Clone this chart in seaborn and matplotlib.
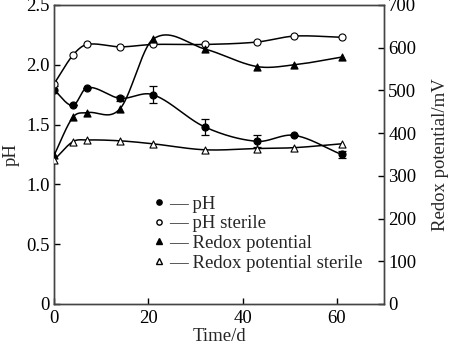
import numpy as np
import pandas as pd
import matplotlib
matplotlib.use("Agg")
import matplotlib.pyplot as plt
import seaborn as sns
from matplotlib.lines import Line2D

# ---- data ----
time_d = [0, 4, 7, 14, 21, 32, 43, 51, 61]
ph = [1.79, 1.66, 1.81, 1.72, 1.75, 1.48, 1.36, 1.41, 1.25]
ph_err = [0.03, 0.0, 0.0, 0.02, 0.07, 0.065, 0.05, 0.0, 0.03]
ph_sterile = [1.84, 2.08, 2.17, 2.15, 2.17, 2.17, 2.19, 2.24, 2.23]
redox = [348, 437, 448, 457, 620, 597, 556, 560, 578]
redox_sterile = [337, 380, 384, 382, 375, 361, 364, 366, 375]

labels = ["pH", "pH sterile", "Redox potential", "Redox potential sterile"]


def smooth_curve(x, y, n=40):
    """Cubic Hermite (Catmull-Rom style) curve through the data points."""
    x = np.asarray(x, float)
    y = np.asarray(y, float)
    k = len(x)
    m = np.zeros(k)
    m[0] = (y[1] - y[0]) / (x[1] - x[0])
    m[-1] = (y[-1] - y[-2]) / (x[-1] - x[-2])
    for i in range(1, k - 1):
        m[i] = (y[i + 1] - y[i - 1]) / (x[i + 1] - x[i - 1])
    xs_all, ys_all = [], []
    for i in range(k - 1):
        h = x[i + 1] - x[i]
        t = np.linspace(0, 1, n, endpoint=(i == k - 2))
        h00 = 2 * t ** 3 - 3 * t ** 2 + 1
        h10 = t ** 3 - 2 * t ** 2 + t
        h01 = -2 * t ** 3 + 3 * t ** 2
        h11 = t ** 3 - t ** 2
        xs_all.append(x[i] + t * h)
        ys_all.append(h00 * y[i] + h10 * h * m[i] + h01 * y[i + 1] + h11 * h * m[i + 1])
    return np.concatenate(xs_all), np.concatenate(ys_all)


sns.set_style("ticks")
plt.rcParams["font.family"] = ["Liberation Serif", "DejaVu Serif"]
plt.rcParams["axes.edgecolor"] = "#444444"
plt.rcParams["axes.linewidth"] = 1.0

fig = plt.figure(figsize=(4.5, 3.52), dpi=100)
ax = fig.add_axes([0.12, 0.1364, 0.7333, 0.8494])
ax2 = ax.twinx()

lw = 1.1
ms = 26

# left axis: pH
for yv in (ph, ph_sterile):
    xs, ys = smooth_curve(time_d, yv)
    sns.lineplot(x=xs, y=ys, ax=ax, color="black", lw=lw, sort=False, zorder=2)
ax.errorbar(time_d, ph, yerr=ph_err, fmt="none", ecolor="black", elinewidth=0.9,
            capsize=3, capthick=0.9, zorder=3)
sns.scatterplot(x=time_d, y=ph, ax=ax, marker="o", s=ms, color="black",
                edgecolor="black", linewidth=0.8, zorder=4)
sns.scatterplot(x=time_d, y=ph_sterile, ax=ax, marker="o", s=ms, color="white",
                edgecolor="black", linewidth=0.8, zorder=4)

# right axis: redox
for yv in (redox, redox_sterile):
    xs, ys = smooth_curve(time_d, yv)
    sns.lineplot(x=xs, y=ys, ax=ax2, color="black", lw=lw, sort=False, zorder=2)
sns.scatterplot(x=time_d, y=redox, ax=ax2, marker="^", s=ms, color="black",
                edgecolor="black", linewidth=0.8, zorder=4)
sns.scatterplot(x=time_d, y=redox_sterile, ax=ax2, marker="^", s=ms, color="white",
                edgecolor="black", linewidth=0.8, zorder=4)

ax.set_xlim(0, 70)
ax.set_ylim(0, 2.5)
ax2.set_ylim(0, 700)
ax.set_xticks([0, 20, 40, 60])
ax.set_yticks([0, 0.5, 1.0, 1.5, 2.0, 2.5])
ax.set_yticklabels(["0", "0.5", "1.0", "1.5", "2.0", "2.5"])
ax2.set_yticks([0, 100, 200, 300, 400, 500, 600, 700])

fs = 13.5
for a in (ax, ax2):
    a.tick_params(direction="in", length=4, width=1.0, labelsize=fs, colors="black", pad=3)
    for s in a.spines.values():
        s.set_visible(True)
        s.set_color("#444444")
ax.tick_params(axis="x", pad=4)

ax.set_xlabel("Time/d", fontsize=fs, labelpad=1)
ax.set_ylabel("pH", fontsize=fs, labelpad=5)
ax2.set_ylabel("Redox potential/mV", fontsize=fs, labelpad=11)

handles = [
    Line2D([], [], marker="o", ls="none", color="black", mfc="black", ms=3.8),
    Line2D([], [], marker="o", ls="none", color="black", mfc="white", ms=3.8),
    Line2D([], [], marker="^", ls="none", color="black", mfc="black", ms=3.8),
    Line2D([], [], marker="^", ls="none", color="black", mfc="white", ms=3.8),
]
leg = ax.legend(handles, ["\u2014 " + l for l in labels], loc="upper left",
                bbox_to_anchor=(0.305, 0.362), frameon=False, fontsize=fs,
                handlelength=0.5, handletextpad=0.25, labelspacing=0.13,
                borderaxespad=0, borderpad=0)

fig.savefig("out.png", dpi=100)
